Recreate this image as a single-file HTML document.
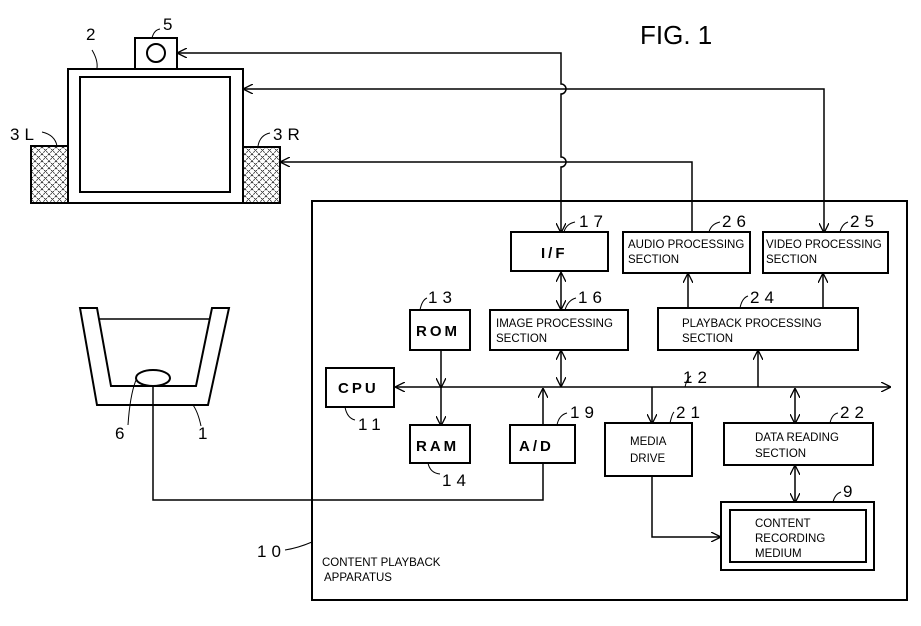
<!DOCTYPE html>
<html><head><style>
body{margin:0;background:#fff}
svg{display:block}
text{font-family:"Liberation Sans",sans-serif;fill:#000}
.b{font-size:15px;font-weight:bold;letter-spacing:3px}
.s{font-size:11.5px}
.n{font-size:17px;letter-spacing:5px}
</style></head><body>
<svg width="921" height="626" viewBox="0 0 921 626" xmlns="http://www.w3.org/2000/svg">
<defs>
<marker id="a" viewBox="0 0 10 10" refX="9" refY="5" markerWidth="10" markerHeight="10" orient="auto-start-reverse" markerUnits="userSpaceOnUse"><path d="M0,0 L10,5 L0,10" fill="none" stroke="#000" stroke-width="1.3"/></marker>
<pattern id="h" width="7" height="7" patternUnits="userSpaceOnUse"><path d="M0,0L7,7M7,0L0,7" stroke="#000" stroke-width="0.7" stroke-dasharray="2,1"/></pattern>
</defs>
<text x="640" y="44" style="font-size:26px">FIG. 1</text>
<g fill="none" stroke="#000" stroke-width="2">
<rect x="68" y="69" width="175" height="134"/>
<rect x="80" y="77" width="150" height="115"/>
<rect x="135" y="38" width="42" height="31"/>
<circle cx="156" cy="53" r="9"/>
<rect x="31" y="146" width="37" height="57" fill="url(#h)"/>
<rect x="243" y="147" width="37" height="56" fill="url(#h)"/>
<path d="M80,308 L97,308 L111,386 L196,386 L212,308 L229,308 L208,405 L97,405 Z"/>
<path d="M99,319 L209,319" stroke-width="1.5"/>
<ellipse cx="153" cy="378" rx="17" ry="8"/>
<rect x="312" y="201" width="595" height="399"/>
<rect x="511" y="232" width="97" height="39"/>
<rect x="623" y="232" width="127" height="41"/>
<rect x="763" y="232" width="125" height="41"/>
<rect x="410" y="310" width="60" height="40"/>
<rect x="490" y="310" width="138" height="40"/>
<rect x="658" y="308" width="200" height="42"/>
<rect x="326" y="368" width="68" height="39"/>
<rect x="410" y="425" width="60" height="38"/>
<rect x="510" y="425" width="65" height="38"/>
<rect x="605" y="423" width="87" height="53"/>
<rect x="724" y="423" width="149" height="42"/>
<rect x="721" y="502" width="153" height="68"/>
<rect x="730" y="510" width="136" height="52"/>
</g>
<g fill="none" stroke="#000" stroke-width="1.5">
<path d="M153,385 L153,500 L543,500 L543,463"/>
<path d="M561,232 L561,167 A5,5 0 0 0 561,157 L561,94 A5,5 0 0 0 561,84 L561,53 L178,53" marker-end="url(#a)" marker-start="url(#a)"/>
<path d="M824,232 L824,89 L244,89" marker-start="url(#a)" marker-end="url(#a)"/>
<path d="M692,232 L692,162 L281,162" marker-end="url(#a)"/>
<path d="M396,387 L890,387" marker-start="url(#a)" marker-end="url(#a)"/>
<path d="M441,350 L441,387" marker-end="url(#a)"/>
<path d="M441,387 L441,425" marker-end="url(#a)"/>
<path d="M561,273 L561,309" marker-start="url(#a)" marker-end="url(#a)"/>
<path d="M561,351 L561,386" marker-start="url(#a)" marker-end="url(#a)"/>
<path d="M543,425 L543,389" marker-end="url(#a)"/>
<path d="M652,387 L652,423" marker-end="url(#a)"/>
<path d="M758,387 L758,351" marker-end="url(#a)"/>
<path d="M795,389 L795,423" marker-start="url(#a)" marker-end="url(#a)"/>
<path d="M795,466 L795,502" marker-start="url(#a)" marker-end="url(#a)"/>
<path d="M688,308 L688,274" marker-end="url(#a)"/>
<path d="M823,308 L823,274" marker-end="url(#a)"/>
<path d="M652,477 L652,537 L720,537" marker-end="url(#a)"/>
</g>
<g>
<text x="541" y="258" class="b">I/F</text>
<text x="628" y="248" class="s">AUDIO PROCESSING</text><text x="628" y="263" class="s">SECTION</text>
<text x="766" y="248" class="s">VIDEO PROCESSING</text><text x="766" y="263" class="s">SECTION</text>
<text x="416" y="336" class="b">ROM</text>
<text x="496" y="327" class="s">IMAGE PROCESSING</text><text x="496" y="342" class="s">SECTION</text>
<text x="682" y="327" class="s">PLAYBACK PROCESSING</text><text x="682" y="342" class="s">SECTION</text>
<text x="338" y="393" class="b">CPU</text>
<text x="416" y="451" class="b">RAM</text>
<text x="519" y="451" class="b">A/D</text>
<text x="630" y="445" class="s">MEDIA</text><text x="630" y="462" class="s">DRIVE</text>
<text x="755" y="441" class="s">DATA READING</text><text x="755" y="457" class="s">SECTION</text>
<text x="755" y="527" class="s">CONTENT</text><text x="755" y="542" class="s">RECORDING</text><text x="755" y="557" class="s">MEDIUM</text>
<text x="322" y="566" class="s">CONTENT PLAYBACK</text><text x="324" y="581" class="s">APPARATUS</text>
<text x="163" y="30" class="n">5</text>
<text x="86" y="40" class="n">2</text>
<text x="10" y="140" class="n">3L</text>
<text x="273" y="140" class="n">3R</text>
<text x="579" y="227" class="n">17</text>
<text x="722" y="227" class="n">26</text>
<text x="850" y="227" class="n">25</text>
<text x="428" y="303" class="n">13</text>
<text x="578" y="303" class="n">16</text>
<text x="750" y="303" class="n">24</text>
<text x="683" y="383" class="n">12</text>
<text x="358" y="430" class="n">11</text>
<text x="570" y="418" class="n">19</text>
<text x="676" y="418" class="n">21</text>
<text x="840" y="418" class="n">22</text>
<text x="442" y="486" class="n">14</text>
<text x="843" y="497" class="n">9</text>
<text x="115" y="439" class="n">6</text>
<text x="198" y="439" class="n">1</text>
<text x="257" y="557" class="n">10</text>
</g>
<g fill="none" stroke="#000" stroke-width="1">
<path d="M152,38 Q154,30 160,29"/>
<path d="M97,68 Q98,60 92,50"/>
<path d="M57,146 Q55,135 42,132"/>
<path d="M258,146 Q260,135 270,133"/>
<path d="M564,232 Q566,224 575,222"/>
<path d="M709,232 Q711,224 720,222"/>
<path d="M840,232 Q842,224 848,222"/>
<path d="M420,310 Q422,300 427,298"/>
<path d="M565,310 Q568,300 576,298"/>
<path d="M740,308 Q742,298 748,296"/>
<path d="M685,387 Q687,378 691,376"/>
<path d="M345,407 Q347,418 355,420"/>
<path d="M557,425 Q559,415 567,413"/>
<path d="M670,423 Q672,414 674,412"/>
<path d="M830,423 Q832,414 838,413"/>
<path d="M428,463 Q430,473 440,474"/>
<path d="M833,502 Q835,494 841,492"/>
<path d="M136,380 Q130,395 128,425"/>
<path d="M193,405 Q198,412 201,426"/>
<path d="M285,550 Q298,548 312,542"/>
</g>
</svg>
</body></html>
